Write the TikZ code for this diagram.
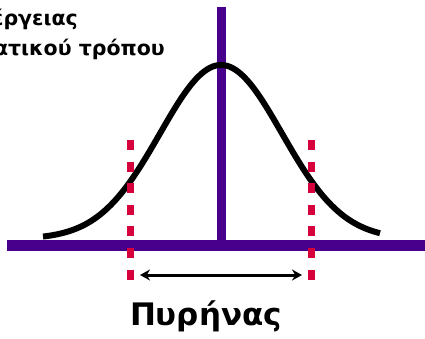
\documentclass[tikz,border=0pt]{standalone}
\usepackage{fontspec}
\setmainfont{DejaVu Sans}
\usetikzlibrary{arrows.meta}
\definecolor{axispurple}{RGB}{72,0,140}
\definecolor{limred}{RGB}{214,0,60}
\tikzset{
  axisline/.style={draw=axispurple, line width=#1},
  limitline/.style={draw=limred, line width=7pt, dash pattern=on 10pt off 11.6pt},
  bell/.style={draw=black, line width=6pt},
  span/.style={draw=black, line width=3pt, {Stealth[length=10pt,width=11pt]}-{Stealth[length=10pt,width=11pt]}},
  lbl/.style={font=\bfseries, inner sep=0pt}
}
\begin{document}
\begin{tikzpicture}[x=1pt,y=-1pt]
\useasboundingbox (0,0) rectangle (425,338);
% axes
\coordinate (vtop) at (221,7);
\coordinate (vbot) at (221,245);
\coordinate (hleft) at (7,245.5);
\coordinate (hright) at (425,245.5);
\draw[axisline=9pt] (vtop) -- (vbot);
\draw[axisline=11pt] (hleft) -- (hright);
% bell curve
\draw[bell] plot[domain=43:380, samples=120, smooth] (\x, {239-174*exp(-0.5*((\x-221)/61)^2)});
% limit lines
\coordinate (ltop) at (130,140);
\coordinate (lbot) at (130,286);
\coordinate (rtop) at (311,140);
\coordinate (rbot) at (311,286);
\draw[limitline] (ltop) -- (lbot);
\draw[limitline] (rtop) -- (rbot);
% span arrow
\coordinate (aleft) at (140,275);
\coordinate (aright) at (302,275);
\draw[span] (aleft) -- (aright);
% labels
\node[lbl, font=\bfseries\fontsize{31}{31}\selectfont, anchor=base] (core) at (206,325) {Πυρήνας};
\node[lbl, font=\bfseries\fontsize{20.5}{20.5}\selectfont, anchor=base east] (t1) at (78,25) {έργειας};
\node[lbl, font=\bfseries\fontsize{20.5}{20.5}\selectfont, anchor=base east] (t2) at (165,55) {ατικού τρόπου};
\end{tikzpicture}
\end{document}
